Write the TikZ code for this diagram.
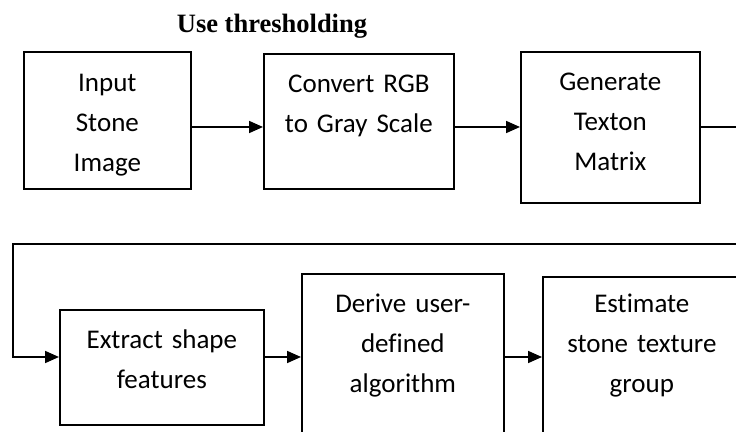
\documentclass[tikz,border=0pt]{standalone}
\usepackage{fontspec}
\setmainfont{Carlito}[Ligatures=NoCommon]
\newfontfamily\headserif{Liberation Serif}
\usetikzlibrary{arrows.meta,positioning}

\begin{document}
\begin{tikzpicture}[x=1pt, y=1pt, line width=1.7pt,
  >={Triangle[length=14pt, width=12pt]},
  stage/.style={draw, anchor=north west, inner sep=0pt, align=center,
    font=\fontsize{27}{40}\selectfont, text height=39pt},
  note/.style={anchor=base, font=\headserif\bfseries\fontsize{26.5}{30}\selectfont},
]
\useasboundingbox (0,0) rectangle (736,431);
\clip (0,0) rectangle (736,431);

% first row
\node[stage, text width=167pt, text height=40pt, text depth=97pt] (inp) at (23,380) {Input\\Stone\\Image};
\node[stage, text width=190pt, text depth=96pt] (gray) at (263,378) {Convert RGB\\to Gray Scale};
\node[stage, text width=179pt, text depth=112pt] (gen) at (520,380) {Generate\\Texton\\Matrix};
\node[note] (thr) at (272,398) {Use thresholding};

% second row (runs past the bottom edge)
\node[stage, text width=204pt, text depth=76pt] (ext) at (59,122) {Extract shape\\features};
\node[stage, text width=202pt, text depth=141pt] (alg) at (301,158) {Derive user-\\defined\\algorithm};
\node[stage, text width=198pt, text height=36pt, text depth=144pt] (est) at (542,155) {Estimate\\stone texture\\group};

\coordinate (row1) at (0,304);
\coordinate (row2) at (0,74);
\coordinate (wrapR) at (760,187);
\coordinate (wrapL) at (13,187);

\draw[->] (inp.east |- row1) -- (gray.west |- row1);
\draw[->] (gray.east |- row1) -- (gen.west |- row1);
\draw[->] (gen.east |- row1) -| (wrapR) -- (wrapL) |- (ext.west |- row2);
\draw[->] (ext.east |- row2) -- (alg.west |- row2);
\draw[->] (alg.east |- row2) -- (est.west |- row2);
\end{tikzpicture}
\end{document}
